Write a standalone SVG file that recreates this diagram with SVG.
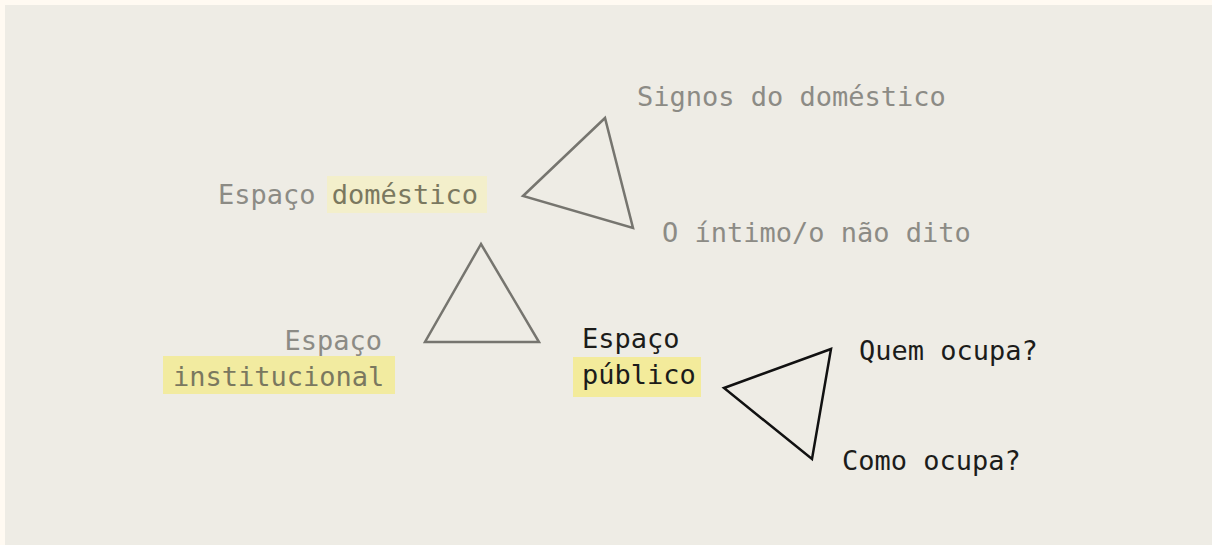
<svg xmlns="http://www.w3.org/2000/svg" width="1212" height="545" viewBox="0 0 1212 545">
<style>
text{font-family:"DejaVu Sans Mono","Liberation Mono",monospace;font-size:27px}
.g{fill:#8c8b85}
.o{fill:#7a785f}
.k{fill:#1c1c1a}
.tri{fill:none;stroke-width:2.5;stroke-linejoin:miter}
.tg{stroke:#76756f}
.tk{stroke:#111}
</style>
<rect x="0" y="0" width="1212" height="545" fill="#fffaf2"/>
<rect x="5" y="5" width="1207" height="540" fill="#eeece5"/>
<g id="espaco-domestico">
<rect x="327" y="176" width="160" height="37" fill="#f3efcb"/>
<text x="218" y="204" class="g">Espaço <tspan class="o">doméstico</tspan></text>
</g>
<g id="signos">
<text x="637" y="106" class="g">Signos do doméstico</text>
</g>
<g id="intimo">
<text x="662" y="242" class="g">O íntimo/o não dito</text>
</g>
<g id="espaco-institucional">
<rect x="163" y="356" width="232" height="38" fill="#f2eba0"/>
<text x="382" y="350" class="g" text-anchor="end">Espaço</text>
<text x="173" y="386" class="o">institucional</text>
</g>
<g id="espaco-publico">
<rect x="573" y="357" width="128" height="40" fill="#f3eb9b"/>
<text x="582" y="348" class="k">Espaço</text>
<text x="582" y="384" class="k">público</text>
</g>
<g id="quem">
<text x="859" y="360" class="k">Quem ocupa?</text>
</g>
<g id="como">
<text x="842" y="470" class="k">Como ocupa?</text>
</g>
<g id="connectors">
<polygon class="tri tg" points="605,118 523,196 633,228"/>
<polygon class="tri tg" points="481,244 425,342 539,342"/>
<polygon class="tri tk" points="831,349 724,388 812,459"/>
</g>
</svg>
